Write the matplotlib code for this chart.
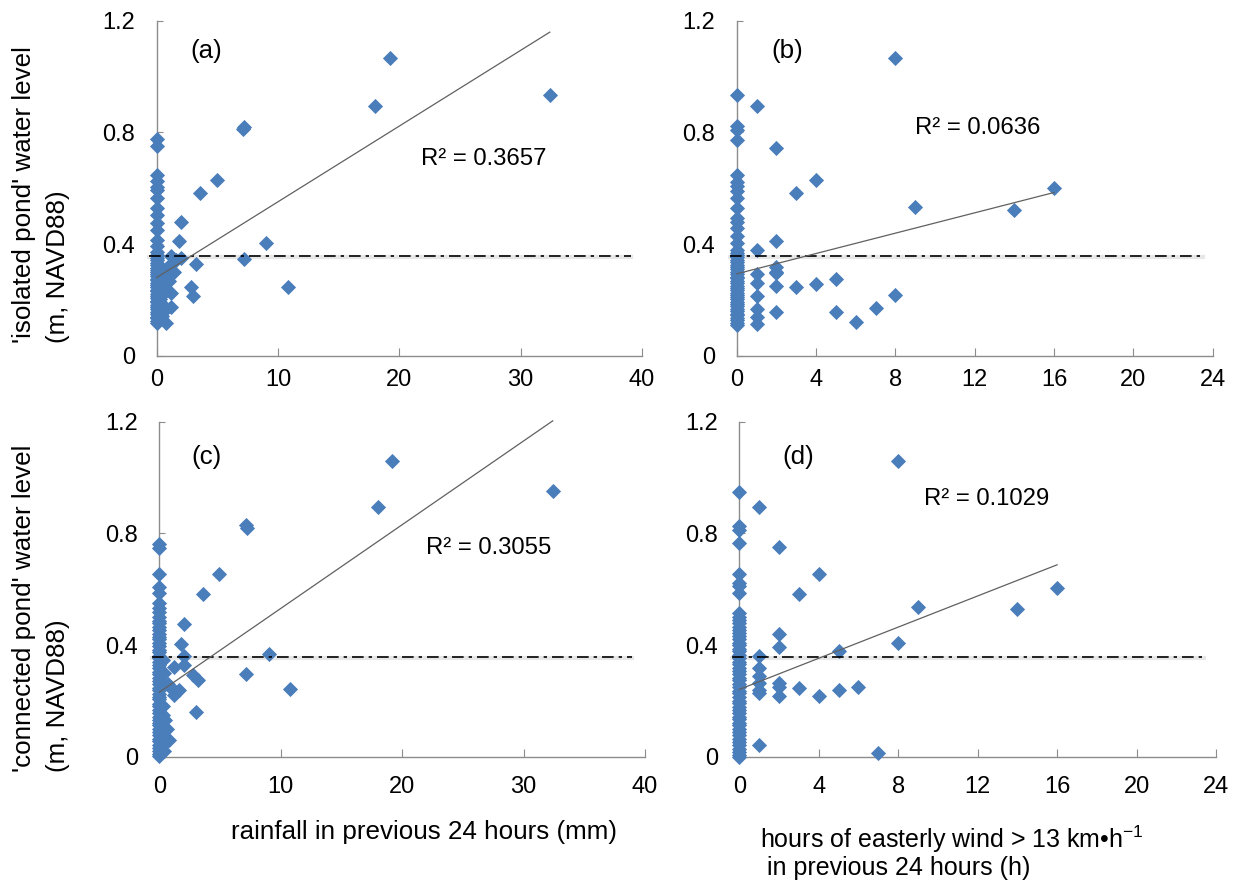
import numpy as np
import matplotlib
matplotlib.use("Agg")
import matplotlib.pyplot as plt

plt.rcParams["font.family"] = ["Liberation Sans", "DejaVu Sans"]
plt.rcParams["mathtext.fontset"] = "custom"
plt.rcParams["mathtext.rm"] = "Liberation Sans"
plt.rcParams["mathtext.it"] = "Liberation Sans:italic"

# ── DATA ─────────────────────────────────────────────────────────────────
# (a) isolated pond level vs rainfall
iso_rain0 = [0.777, 0.750, 0.649, 0.626, 0.605, 0.593, 0.566, 0.529, 0.505, 0.476,
             0.452, 0.416, 0.392, 0.372, 0.363, 0.351, 0.344, 0.333, 0.327, 0.316,
             0.309, 0.302, 0.292, 0.287, 0.276, 0.271, 0.262, 0.254, 0.248, 0.237,
             0.232, 0.222, 0.216, 0.208, 0.197, 0.192, 0.181, 0.177, 0.168, 0.158,
             0.152, 0.141, 0.135, 0.127, 0.118]
iso_rain_x = [19.2, 18.0, 32.4, 7.1, 7.2, 5.0, 3.6, 2.0, 1.8, 9.0, 7.2, 3.2, 10.8,
              2.8, 3.0, 1.2, 0.8, 1.2, 2.0, 1.6, 1.3, 1.0, 0.8, 0.5, 0.3, 0.6,
              0.9, 0.4, 0.7, 0.2, 0.3, 0.5, 0.8, 1.2, 0.6, 0.4, 0.2, 1.4, 1.0]
iso_rain_y = [1.066, 0.894, 0.933, 0.812, 0.820, 0.630, 0.585, 0.480, 0.411, 0.403,
              0.347, 0.329, 0.248, 0.246, 0.216, 0.174, 0.119, 0.358, 0.350, 0.342,
              0.333, 0.321, 0.312, 0.300, 0.310, 0.290, 0.270, 0.255, 0.262, 0.228,
              0.205, 0.182, 0.232, 0.225, 0.160, 0.142, 0.281, 0.300, 0.268]

# (b) isolated pond level vs hours of easterly wind
iso_wind0 = [0.935, 0.822, 0.810, 0.772, 0.646, 0.621, 0.607, 0.589, 0.565, 0.529,
             0.494, 0.481, 0.458, 0.431, 0.404, 0.381, 0.369, 0.361, 0.353, 0.342,
             0.336, 0.326, 0.318, 0.311, 0.301, 0.295, 0.284, 0.278, 0.268, 0.261,
             0.252, 0.244, 0.236, 0.226, 0.219, 0.211, 0.203, 0.193, 0.186, 0.178,
             0.168, 0.162, 0.151, 0.145, 0.137, 0.128, 0.119, 0.111]
iso_wind_x = [8, 1, 2, 4, 3, 16, 9, 14, 2, 1, 2, 2, 1, 1, 2, 3, 4, 5, 1,
              1, 1, 1, 2, 5, 6, 7, 8, 2]
iso_wind_y = [1.066, 0.894, 0.744, 0.630, 0.583, 0.601, 0.534, 0.521, 0.412, 0.378,
              0.320, 0.302, 0.294, 0.261, 0.252, 0.246, 0.258, 0.275, 0.213,
              0.167, 0.141, 0.115, 0.159, 0.157, 0.122, 0.172, 0.220, 0.297]

# (c) connected pond level vs rainfall
con_rain0 = [0.762, 0.746, 0.654, 0.609, 0.587, 0.552, 0.531, 0.517, 0.501, 0.487,
             0.478, 0.463, 0.455, 0.441, 0.429, 0.420, 0.406, 0.397, 0.384, 0.376,
             0.362, 0.353, 0.341, 0.328, 0.319, 0.305, 0.296, 0.283, 0.271, 0.262,
             0.247, 0.238, 0.226, 0.214, 0.205, 0.189, 0.180, 0.167, 0.158, 0.144,
             0.133, 0.121, 0.112, 0.098, 0.089, 0.076, 0.064, 0.055, 0.041, 0.032,
             0.019, 0.009, 0.001]
con_rain_x = [19.2, 18.0, 32.4, 7.1, 7.2, 4.9, 3.6, 2.0, 1.8, 2.0, 2.0, 9.0,
              7.1, 10.8, 2.8, 3.2, 3.0, 1.2, 1.6, 1.2, 0.8, 0.6, 0.4, 0.5, 0.3,
              0.2, 0.7, 1.0, 0.4, 0.3, 1.4, 0.5, 0.2, 0.3]
con_rain_y = [1.060, 0.894, 0.950, 0.830, 0.818, 0.653, 0.584, 0.476, 0.402, 0.362,
              0.328, 0.368, 0.296, 0.241, 0.291, 0.275, 0.161, 0.322, 0.239, 0.220,
              0.060, 0.100, 0.020, 0.130, 0.180, 0.250, 0.262, 0.245, 0.300, 0.345,
              0.230, 0.070, 0.040, 0.150]

# (d) connected pond level vs hours of easterly wind
con_wind0 = [0.949, 0.826, 0.812, 0.764, 0.654, 0.622, 0.611, 0.587, 0.514, 0.502,
             0.489, 0.480, 0.466, 0.455, 0.443, 0.431, 0.423, 0.408, 0.399, 0.386,
             0.377, 0.363, 0.352, 0.340, 0.331, 0.317, 0.306, 0.296, 0.281, 0.273,
             0.259, 0.249, 0.236, 0.227, 0.213, 0.201, 0.192, 0.178, 0.169, 0.156,
             0.144, 0.136, 0.121, 0.112, 0.099, 0.087, 0.078, 0.064, 0.053, 0.043,
             0.029, 0.018, 0.006, 0.0]
con_wind_x = [8, 1, 2, 4, 3, 9, 14, 16, 2, 2, 8, 5, 1, 1, 1, 1, 1, 1,
              2, 2, 2, 3, 4, 5, 6, 1, 7]
con_wind_y = [1.060, 0.894, 0.752, 0.653, 0.584, 0.536, 0.528, 0.605, 0.438, 0.392,
              0.407, 0.380, 0.361, 0.316, 0.289, 0.263, 0.240, 0.227,
              0.263, 0.250, 0.219, 0.245, 0.219, 0.238, 0.249, 0.042, 0.012]

# linear trend (intercept, slope) and R² printed on each panel
trend_a, r2_a = (0.281, 0.0271), "0.3657"
trend_b, r2_b = (0.294, 0.0182), "0.0636"
trend_c, r2_c = (0.231, 0.0300), "0.3055"
trend_d, r2_d = (0.241, 0.0279), "0.1029"

ref_level = 0.358   # dash-dot reference water level
rain_ticks = [0, 10, 20, 30, 40]
wind_ticks = [0, 4, 8, 12, 16, 20, 24]
level_ticks = [0, 0.4, 0.8, 1.2]

# ── STYLE ────────────────────────────────────────────────────────────────
BLUE = "#4a7ebb"
AXIS_GREY = "#8c8c8c"
TICK_FS = 17
LABEL_FS = 18.7
W, H = 1251, 884


def box(left, right, top, bottom):
    return [left / W, 1 - bottom / H, (right - left) / W, (bottom - top) / H]


def panel(ax, lev0, xs, ys, trend, r2, xticks, ref_end, tag, tag_xy, r2_xy,
          xpad):
    xs_all = [0.0] * len(lev0) + xs
    ys_all = list(lev0) + ys
    ax.plot(xs_all, ys_all, "D", color=BLUE, ms=7.4, mec=BLUE, mew=0.6,
            zorder=3, clip_on=False)
    # reference level (dash-dot with faint shadow)
    ax.plot([-0.015 * xticks[-1], ref_end], [ref_level - 0.004] * 2,
            color="#bbbbbb", lw=3, alpha=0.35, zorder=2, clip_on=False)
    ax.plot([-0.015 * xticks[-1], ref_end], [ref_level] * 2, color="black",
            lw=1.2, ls=(0, (7, 3, 2, 3)), zorder=4, clip_on=False)
    # trend line
    tx = np.array([0, max(xs_all)])
    ax.plot(tx, trend[0] + trend[1] * tx, color="#606060", lw=0.9, zorder=4,
            clip_on=False)
    ax.text(*tag_xy, tag, fontsize=LABEL_FS, ha="center", va="center")
    ax.text(*r2_xy, "R² = " + r2, fontsize=TICK_FS + 0.2, ha="left",
            va="center")

    ax.set_xlim(xticks[0], xticks[-1])
    ax.set_ylim(0, 1.2)
    ax.set_xticks(xticks)
    ax.set_yticks(level_ticks)
    ax.set_yticklabels(["0", "0.4", "0.8", "1.2"])
    for s in ["top", "right"]:
        ax.spines[s].set_visible(False)
    for s in ["left", "bottom"]:
        ax.spines[s].set_color(AXIS_GREY)
        ax.spines[s].set_linewidth(1.0)
    ax.tick_params(axis="x", direction="in", length=5.5, color=AXIS_GREY,
                   labelsize=TICK_FS, pad=xpad)
    ax.tick_params(axis="y", direction="in", length=4.5, color=AXIS_GREY,
                   labelsize=TICK_FS, pad=15.5)


fig = plt.figure(figsize=(12.51, 8.84), dpi=100)
ax_a = fig.add_axes(box(156.7, 642, 20.7, 356))
ax_b = fig.add_axes(box(736.7, 1212.7, 20.7, 356))
ax_c = fig.add_axes(box(159.3, 645, 421.7, 756.7))
ax_d = fig.add_axes(box(739.3, 1216, 421.7, 756.7))

panel(ax_a, iso_rain0, iso_rain_x, iso_rain_y, trend_a, r2_a, rain_ticks,
      39.1, "(a)", (4.1, 1.09), (21.8, 0.706), 9.0)
panel(ax_b, iso_wind0, iso_wind_x, iso_wind_y, trend_b, r2_b, wind_ticks,
      23.5, "(b)", (2.55, 1.09), (9.0, 0.816), 9.0)
panel(ax_c, con_rain0, con_rain_x, con_rain_y, trend_c, r2_c, rain_ticks,
      38.9, "(c)", (3.9, 1.072), (22.0, 0.749), 14.0)
panel(ax_d, con_wind0, con_wind_x, con_wind_y, trend_d, r2_d, wind_ticks,
      23.4, "(d)", (2.97, 1.072), (9.3, 0.923), 14.0)

# ── AXIS LABELS ──────────────────────────────────────────────────────────
ylab = dict(rotation=90, rotation_mode="anchor", fontsize=LABEL_FS,
            ha="left", va="center")
fig.text(24 / W, 1 - 343 / H, "'isolated pond' water level", **ylab)
fig.text(58 / W, 1 - 343 / H, "(m, NAVD88)", **ylab)
fig.text(24 / W, 1 - 772 / H, "'connected pond' water level", **ylab)
fig.text(58 / W, 1 - 772 / H, "(m, NAVD88)", **ylab)

fig.text(424 / W, 1 - 832 / H, "rainfall in previous 24 hours (mm)",
         fontsize=LABEL_FS, ha="center", va="center")
fig.text(760 / W, 1 - 839 / H, "hours of easterly wind > 13 km•h$^{-1}$",
         fontsize=LABEL_FS - 0.7, ha="left", va="center")
fig.text(760 / W, 1 - 868 / H, " in previous 24 hours (h)",
         fontsize=LABEL_FS - 0.7, ha="left", va="center")

fig.savefig("out.png", dpi=100)
